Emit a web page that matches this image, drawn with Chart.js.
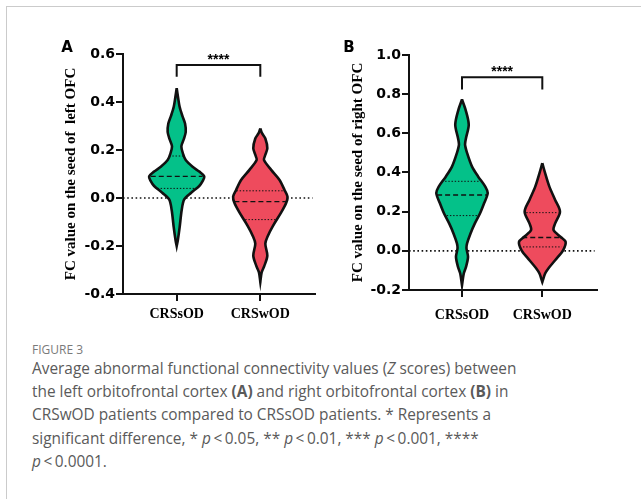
<!DOCTYPE html>
<html>
<head>
<meta charset="utf-8">
<script src="https://cdn.jsdelivr.net/npm/chart.js@4.4.1/dist/chart.umd.min.js"></script>
<style>
  html, body { margin: 0; padding: 0; background: #fff; width: 641px; height: 499px; overflow: hidden; }
  .frame { position: absolute; left: 6px; top: 6px; width: 700px; height: 600px;
           border-top: 1.5px solid #cbcbcb; border-left: 1.5px solid #cbcbcb; }
  .panel { position: absolute; top: 30px; width: 290px; height: 300px; }
  #panelA { left: 40px; }
  #panelB { left: 330px; }
  .figno { position: absolute; left: 32px; top: 344px; font: 12px/12px "Open Sans", sans-serif; color: #7a7a7a; }
  .caption { position: absolute; left: 32px; top: 357px; font: 15.4px/23.2px "Open Sans", sans-serif;
             color: #5a5a5a; white-space: nowrap; }
</style>
</head>
<body>
<div class="frame"></div>
<div class="panel" id="panelA"><canvas id="chartA" width="290" height="300"></canvas></div>
<div class="panel" id="panelB"><canvas id="chartB" width="290" height="300"></canvas></div>
<div class="figno">FIGURE 3</div>
<div class="caption">Average abnormal functional connectivity values (<i>Z</i> scores) between<br>the left orbitofrontal cortex <b>(A)</b> and right orbitofrontal cortex <b>(B)</b> in<br>CRSwOD patients compared to CRSsOD patients. * Represents a<br>significant difference, * <i>p</i>&#8201;&lt;&#8201;0.05, ** <i>p</i>&#8201;&lt;&#8201;0.01, *** <i>p</i>&#8201;&lt;&#8201;0.001, ****<br><i>p</i>&#8201;&lt;&#8201;0.0001.</div>
<script>
// groups on the x axis
const groups = ['CRSsOD', 'CRSwOD'];
const violinColors = ['#04c189', '#ee4b5d'];

// panel A - left OFC (violin outline: value levels + half widths in group units)
const leftTicks = [-0.4, -0.2, 0.0, 0.2, 0.4, 0.6];
const leftSodLevels = [0.458, 0.42, 0.38, 0.34, 0.31, 0.275, 0.245, 0.215, 0.185, 0.158, 0.13, 0.11, 0.09, 0.07, 0.05, 0.021, -0.006, -0.05, -0.12, -0.175, -0.2];
const leftSodWidths = [0, 0.016, 0.035, 0.07, 0.10, 0.108, 0.085, 0.056, 0.075, 0.108, 0.19, 0.27, 0.33, 0.31, 0.27, 0.17, 0.09, 0.06, 0.036, 0.014, 0];
const leftWodLevels = [0.29, 0.27, 0.248, 0.207, 0.175, 0.158, 0.117, 0.075, 0.033, 0.006, -0.02, -0.06, -0.117, -0.158, -0.19, -0.24, -0.283, -0.31, -0.35];
const leftWodWidths = [0, 0.02, 0.06, 0.084, 0.055, 0.044, 0.13, 0.23, 0.29, 0.325, 0.31, 0.25, 0.15, 0.09, 0.06, 0.084, 0.048, 0.016, 0];
const leftMedian = [0.09, -0.015];
const leftMedianWidth = [0.31, 0.31];
const leftUpperQ = [0.175, 0.03];
const leftUpperQWidth = [0.09, 0.285];
const leftLowerQ = [0.04, -0.09];
const leftLowerQWidth = [0.23, 0.18];
const leftBracket = [0.505, 0.554];

// panel B - right OFC
const rightTicks = [-0.2, 0.0, 0.2, 0.4, 0.6, 0.8, 1.0];
const rightSodLevels = [0.773, 0.72, 0.645, 0.576, 0.542, 0.5, 0.43, 0.38, 0.328, 0.294, 0.243, 0.192, 0.14, 0.089, 0.038, 0.012, -0.031, -0.082, -0.116, -0.176];
const rightSodWidths = [0, 0.045, 0.084, 0.05, 0.038, 0.063, 0.125, 0.2, 0.29, 0.32, 0.275, 0.225, 0.16, 0.106, 0.063, 0.056, 0.075, 0.05, 0.022, 0];
const rightWodLevels = [0.448, 0.397, 0.328, 0.26, 0.2, 0.14, 0.106, 0.072, 0.046, 0.004, -0.048, -0.09, -0.116, -0.159];
const rightWodWidths = [0, 0.035, 0.088, 0.16, 0.22, 0.16, 0.14, 0.225, 0.29, 0.26, 0.16, 0.075, 0.035, 0];
const rightMedian = [0.285, 0.068];
const rightMedianWidth = [0.31, 0.25];
const rightUpperQ = [0.355, 0.195];
const rightUpperQWidth = [0.21, 0.2];
const rightLowerQ = [0.18, 0.02];
const rightLowerQWidth = [0.19, 0.24];
const rightBracket = [0.824, 0.887];

const sigLabel = '****';

Chart.defaults.font.family = '"DejaVu Sans", sans-serif';
Chart.defaults.color = '#000';

// closed outline: right side going down, left side coming back up
function violinOutline(center, levels, widths) {
    const pts = [];
    levels.forEach((y, i) => pts.push({ x: center + widths[i], y: y }));
    for (let i = levels.length - 1; i >= 0; i--) {
        pts.push({ x: center - widths[i], y: levels[i] });
    }
    pts.push({ x: center + widths[0], y: levels[0] });
    return pts;
}

function hline(center, y, w, dash, lw) {
    return {
        data: [{ x: center - w, y: y }, { x: center + w, y: y }],
        borderColor: '#111', borderWidth: lw, borderDash: dash, tension: 0, order: 1
    };
}

// stars over the bracket + panel letter
const annotate = {
    id: 'annotate',
    afterDraw(chart, args, opts) {
        const { ctx } = chart;
        const x = chart.scales.x, y = chart.scales.y;
        ctx.save();
        ctx.fillStyle = '#000';
        ctx.textAlign = 'center';
        ctx.textBaseline = 'alphabetic';
        ctx.font = 'bold 15px "DejaVu Sans"';
        ctx.fillText(opts.letter, opts.letterX, opts.letterY);
        ctx.font = 'bold 14px "Liberation Sans"';
        ctx.fillText(sigLabel, x.getPixelForValue(0.5), y.getPixelForValue(opts.bracketTop) - 1);
        ctx.restore();
    }
};

function buildPanel(canvasId, p) {
    const datasets = [];
    // dotted zero reference line
    datasets.push({
        data: [{ x: p.xMin, y: 0 }, { x: p.xMax - 0.03, y: 0 }],
        borderColor: '#111', borderWidth: 1.6, borderDash: [1.6, 2.6], order: 4
    });
    p.violins.forEach((v, i) => {
        datasets.push({
            data: violinOutline(i, v.levels, v.widths),
            fill: 'shape',
            backgroundColor: violinColors[i],
            borderColor: '#111',
            borderWidth: 2.6,
            tension: 0.3,
            order: 3
        });
        datasets.push(hline(i, p.median[i], p.medianW[i], [5, 3], 1.4));
        datasets.push(hline(i, p.upperQ[i], p.upperQW[i], [1.4, 1.8], 1));
        datasets.push(hline(i, p.lowerQ[i], p.lowerQW[i], [1.4, 1.8], 1));
    });
    // significance bracket
    datasets.push({
        data: [{ x: 0, y: p.bracket[0] }, { x: 0, y: p.bracket[1] }, { x: 1, y: p.bracket[1] }, { x: 1, y: p.bracket[0] }],
        borderColor: '#111', borderWidth: 2, tension: 0, order: 1
    });

    return new Chart(document.getElementById(canvasId), {
        type: 'line',
        data: { datasets: datasets },
        plugins: [annotate],
        options: {
            responsive: false,
            animation: false,
            events: [],
            layout: { padding: p.padding },
            elements: { point: { radius: 0 }, line: { borderCapStyle: 'butt' } },
            plugins: {
                legend: { display: false },
                tooltip: { enabled: false },
                annotate: { letter: p.letter, letterX: p.letterX, letterY: 22, bracketTop: p.bracket[1] }
            },
            scales: {
                x: {
                    type: 'linear',
                    min: p.xMin,
                    max: p.xMax,
                    afterBuildTicks: (s) => { s.ticks = groups.map((g, i) => ({ value: i })); },
                    afterFit: (s) => { s.height = p.xHeight; },
                    ticks: {
                        callback: (v) => groups[v],
                        padding: p.xPad,
                        font: { family: '"Liberation Serif", serif', size: 14, weight: 'bold' },
                        maxRotation: 0
                    },
                    grid: { drawOnChartArea: false, color: '#111', lineWidth: 2, tickLength: 7 },
                    border: { color: '#111', width: 2 }
                },
                y: {
                    type: 'linear',
                    min: p.ticks[0],
                    max: p.ticks[p.ticks.length - 1],
                    afterBuildTicks: (s) => { s.ticks = p.ticks.map(v => ({ value: v })); },
                    afterFit: (s) => { s.width = p.yWidth; },
                    ticks: {
                        callback: (v) => v.toFixed(1),
                        padding: 1,
                        font: { size: 14, weight: 'bold' }
                    },
                    grid: { drawOnChartArea: false, color: '#111', lineWidth: 2, tickLength: 7 },
                    border: { color: '#111', width: 2 },
                    title: {
                        display: true,
                        text: p.title,
                        padding: { top: 0, bottom: 0 },
                        font: { family: '"Liberation Serif", serif', size: 15, weight: 'bold' }
                    }
                }
            }
        }
    });
}

buildPanel('chartA', {
    letter: 'A', letterX: 27,
    title: 'FC value on the seed of  left OFC',
    ticks: leftTicks,
    xMin: -0.642, xMax: 1.654,
    padding: { left: 22, right: 15, top: 24, bottom: 0 },
    yWidth: 61, xHeight: 36, xPad: 5,
    violins: [
        { levels: leftSodLevels, widths: leftSodWidths },
        { levels: leftWodLevels, widths: leftWodWidths }
    ],
    median: leftMedian, medianW: leftMedianWidth,
    upperQ: leftUpperQ, upperQW: leftUpperQWidth,
    lowerQ: leftLowerQ, lowerQW: leftLowerQWidth,
    bracket: leftBracket
});

buildPanel('chartB', {
    letter: 'B', letterX: 19,
    title: 'FC value on the seed of right OFC',
    ticks: rightTicks,
    xMin: -0.66, xMax: 1.681,
    padding: { left: 19, right: 23, top: 25, bottom: 0 },
    yWidth: 60, xHeight: 40, xPad: 10,
    violins: [
        { levels: rightSodLevels, widths: rightSodWidths },
        { levels: rightWodLevels, widths: rightWodWidths }
    ],
    median: rightMedian, medianW: rightMedianWidth,
    upperQ: rightUpperQ, upperQW: rightUpperQWidth,
    lowerQ: rightLowerQ, lowerQW: rightLowerQWidth,
    bracket: rightBracket
});
</script>
</body>
</html>
